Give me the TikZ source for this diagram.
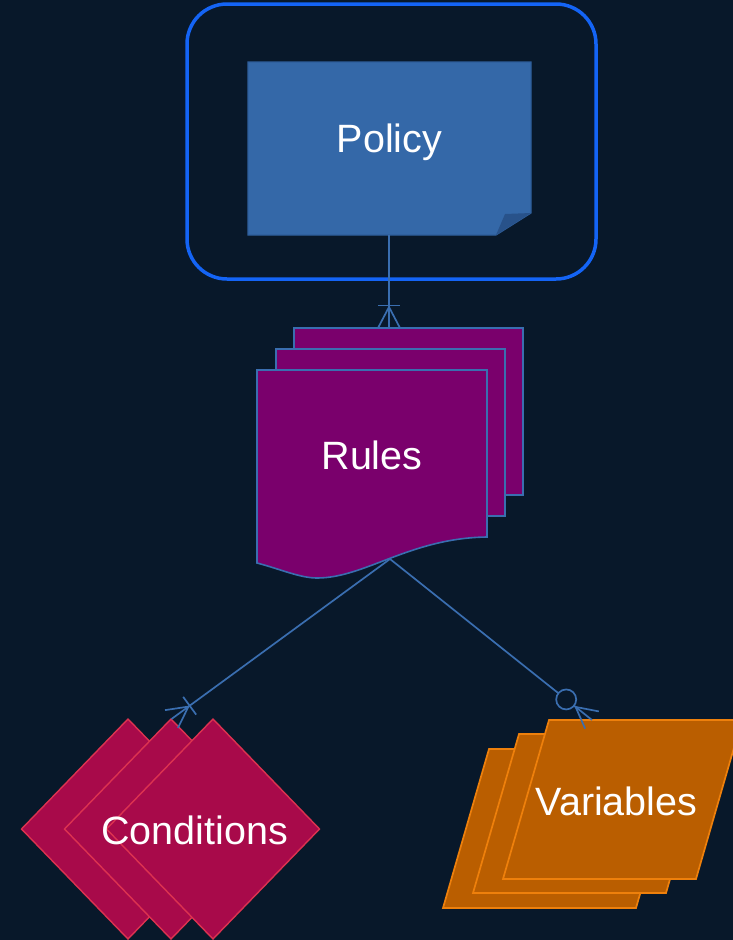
\documentclass[tikz,border=0pt]{standalone}
\usepackage{fontspec}
\setmainfont{Liberation Sans}
\usetikzlibrary{calc}

\definecolor{bgcol}{RGB}{8,24,42}
\definecolor{framecol}{RGB}{20,100,245}
\definecolor{policyfill}{RGB}{52,104,168}
\definecolor{policyline}{RGB}{46,94,155}
\definecolor{foldcol}{RGB}{40,82,138}
\definecolor{linkcol}{RGB}{58,110,176}
\definecolor{rulesfill}{RGB}{122,0,108}
\definecolor{condfill}{RGB}{168,10,74}
\definecolor{condline}{RGB}{220,50,80}
\definecolor{varfill}{RGB}{186,94,0}
\definecolor{varline}{RGB}{238,128,12}

\tikzset{
  frame/.style={draw=framecol, line width=3.5pt, rounded corners=40pt},
  policybox/.style={fill=policyfill, draw=policyline, line width=1.2pt},
  rulesdoc/.style={fill=rulesfill, draw=linkcol, line width=1.6pt},
  conddia/.style={fill=condfill, draw=condline, line width=1.4pt},
  varpar/.style={fill=varfill, draw=varline, line width=1.7pt},
  link/.style={draw=linkcol, line width=1.7pt},
  lbl/.style={text=white, font=\fontsize{39.5}{47}\selectfont, inner sep=0pt, anchor=base}
}

\begin{document}
\begin{tikzpicture}[x=1pt,y=-1pt]
\useasboundingbox (0,0) rectangle (733,940);
\clip (0,0) rectangle (733,940);
\fill[bgcol] (0,0) rectangle (733,940);

% Policy container and note
\draw[frame] (187,4) rectangle (596,279);
\draw[policybox] (248,62) -- (531,62) -- (531,213) -- (496,235) -- (248,235) -- cycle;
\fill[foldcol] (496,235) -- (505,214) -- (531,213) -- cycle;
\node[lbl] (policy) at (389.5,152) {Policy};
\coordinate (policyBottom) at (389,235);

% Rules: stacked documents
\draw[rulesdoc] (294,328) rectangle (523,495);
\draw[rulesdoc] (276,349) rectangle (505,516);
\draw[rulesdoc] (257,370) -- (487,370) -- (487,537)
  .. controls (410,538) and (365,578) .. (317,578)
  .. controls (300,578) and (280,569) .. (257,563) -- cycle;
\node[lbl] (rules) at (372,469) {Rules};
\coordinate (rulesTop) at (389,328);
\coordinate (rulesBottom) at (390,559);

% Conditions: stacked diamonds
\foreach \cx in {128,171,213}{
  \draw[conddia] (\cx-106.5,829) -- (\cx,719) -- (\cx+106.5,829) -- (\cx,939) -- cycle;
}
\node[lbl] (conditions) at (194.5,844) {Conditions};
\coordinate (condTop) at (171.5,719);

% Variables: stacked parallelograms
\draw[varpar] (489,749) -- (682,749) -- (636,908) -- (443,908) -- cycle;
\draw[varpar] (519,734) -- (712,734) -- (666,893) -- (473,893) -- cycle;
\draw[varpar] (549,720) -- (742,720) -- (696,879) -- (503,879) -- cycle;
\node[lbl] (variables) at (616.5,815) {Variables};
\coordinate (varTop) at (592,720);

% Policy -> Rules : one or many
\draw[link] (policyBottom) -- (rulesTop);
\draw[link] ($(rulesTop)!11pt!90:(policyBottom)$) -- ($(rulesTop)!21pt!(policyBottom)$)
            -- ($(rulesTop)!11pt!-90:(policyBottom)$);
\coordinate (b1) at ($(rulesTop)!22.5pt!(policyBottom)$);
\draw[link] ($(b1)!11pt!90:(policyBottom)$) -- ($(b1)!11pt!-90:(policyBottom)$);

% Rules -> Conditions : one or many
\draw[link] (rulesBottom) -- (condTop);
\draw[link] ($(condTop)!11pt!90:(rulesBottom)$) -- ($(condTop)!21pt!(rulesBottom)$)
            -- ($(condTop)!11pt!-90:(rulesBottom)$);
\coordinate (b2) at ($(condTop)!22.5pt!(rulesBottom)$);
\draw[link] ($(b2)!11pt!90:(rulesBottom)$) -- ($(b2)!11pt!-90:(rulesBottom)$);

% Rules -> Variables : zero or many
\coordinate (c3) at ($(varTop)!33pt!(rulesBottom)$);
\draw[link] (rulesBottom) -- ($(varTop)!43pt!(rulesBottom)$);
\draw[link, fill=bgcol] (c3) circle[radius=10pt];
\draw[link] ($(varTop)!23pt!(rulesBottom)$) -- (varTop);
\draw[link] ($(varTop)!11pt!90:(rulesBottom)$) -- ($(varTop)!21pt!(rulesBottom)$)
            -- ($(varTop)!11pt!-90:(rulesBottom)$);
\end{tikzpicture}
\end{document}
